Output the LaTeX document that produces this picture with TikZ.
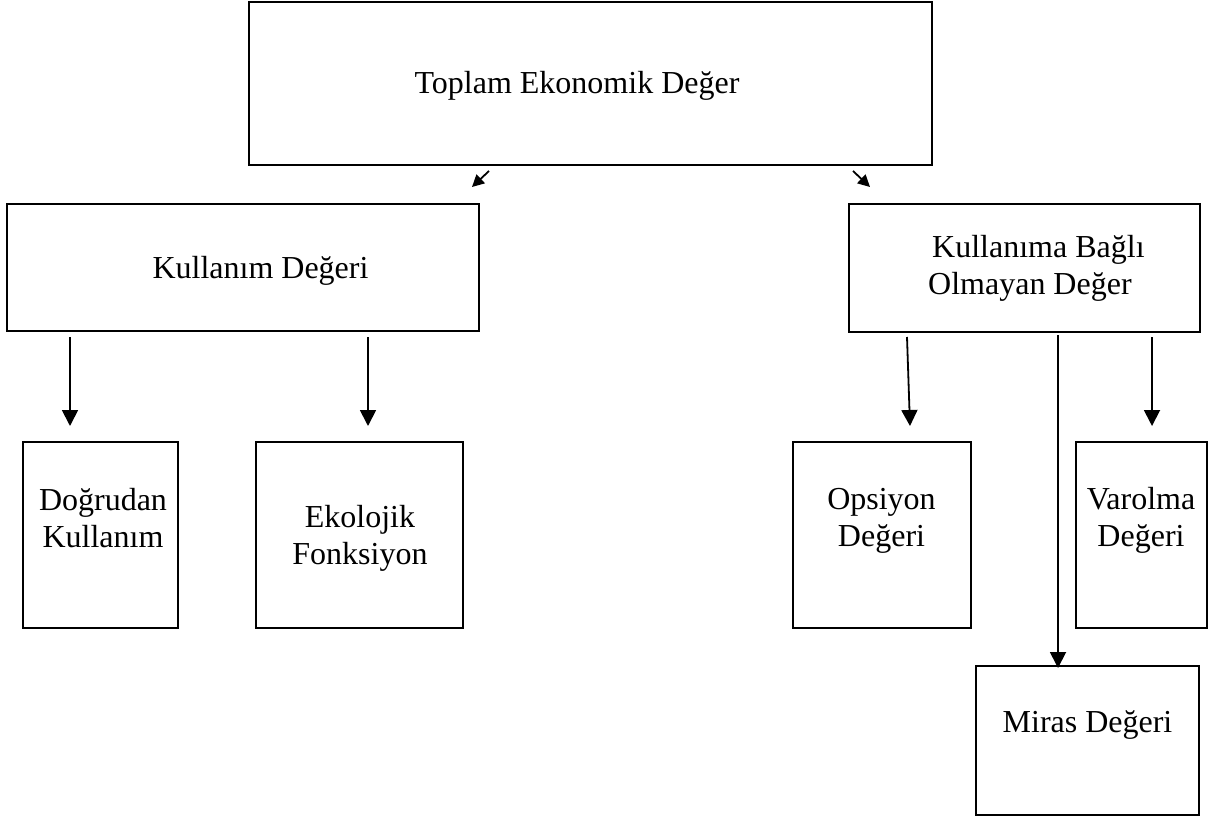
\documentclass[tikz,border=0pt]{standalone}
\usepackage{fontspec}
\setmainfont{Liberation Serif}
\usetikzlibrary{arrows.meta}
\begin{document}
\begin{tikzpicture}[x=1pt, y=-1pt,
            box/.style={rectangle, draw, line width=2.6pt, inner sep=0pt, outer sep=0pt},
            txt/.style={inner sep=0pt, anchor=base, align=center, font=\fontsize{32}{36.8}\selectfont},
            arr/.style={-{Triangle[length=16pt,width=16pt]}, line width=1.8pt},
            sarr/.style={-{Triangle[length=12pt,width=12pt]}, line width=1.8pt}]
            \useasboundingbox (0,0) rectangle (1209,818);
            % kutular
            \node[box, minimum width=683pt, minimum height=163pt] (tev) at (590.5,83.5) {};
            \node[box, minimum width=472pt, minimum height=127pt] (kd) at (243,267.5) {};
            \node[box, minimum width=351pt, minimum height=128pt] (kbo) at (1024.5,268) {};
            \node[box, minimum width=155pt, minimum height=186pt] (dk) at (100.5,535) {};
            \node[box, minimum width=207pt, minimum height=186pt] (ef) at (359.5,535) {};
            \node[box, minimum width=178pt, minimum height=186pt] (od) at (882,535) {};
            \node[box, minimum width=131pt, minimum height=186pt] (vd) at (1141.5,535) {};
            \node[box, minimum width=223pt, minimum height=149pt] (md) at (1087.5,740.5) {};
            % yazilar
            \node[txt] (tevt) at (577,94) {Toplam Ekonomik Değer};
            \node[txt] (kdt) at (260.5,278) {Kullanım Değeri};
            \node[txt, anchor=base west, align=left] (kbot) at (928,294.5) {\hspace{4pt}Kullanıma Bağlı\\Olmayan Değer};
            \node[txt] (dkt) at (103,547) {Doğrudan\\Kullanım};
            \node[txt] (eft) at (360,564) {Ekolojik\\Fonksiyon};
            \node[txt] (odt) at (881.5,546) {Opsiyon\\Değeri};
            \node[txt] (vdt) at (1141,546) {Varolma\\Değeri};
            \node[txt] (mdt) at (1087.5,732) {Miras Değeri};
            % oklar
            \draw[sarr] ([xshift=240pt,yshift=-6pt]tev.south west) -- ([xshift=-7pt,yshift=17pt]kd.north east);
            \draw[sarr] ([xshift=604pt,yshift=-6pt]tev.south west) -- ([xshift=21pt,yshift=17pt]kbo.north west);
            \draw[arr] ([xshift=63pt,yshift=-6pt]kd.south west) -- ([xshift=47pt,yshift=16pt]dk.north west);
            \draw[arr] ([xshift=361pt,yshift=-6pt]kd.south west) -- ([xshift=112pt,yshift=16pt]ef.north west);
            \draw[arr] ([xshift=58pt,yshift=-5pt]kbo.south west) -- ([xshift=117pt,yshift=16pt]od.north west);
            \draw[arr] ([xshift=209pt,yshift=-3pt]kbo.south west) -- ([xshift=82pt,yshift=-2pt]md.north west);
            \draw[arr] ([xshift=303pt,yshift=-5pt]kbo.south west) -- ([xshift=76pt,yshift=16pt]vd.north west);
        \end{tikzpicture}
\end{document}
